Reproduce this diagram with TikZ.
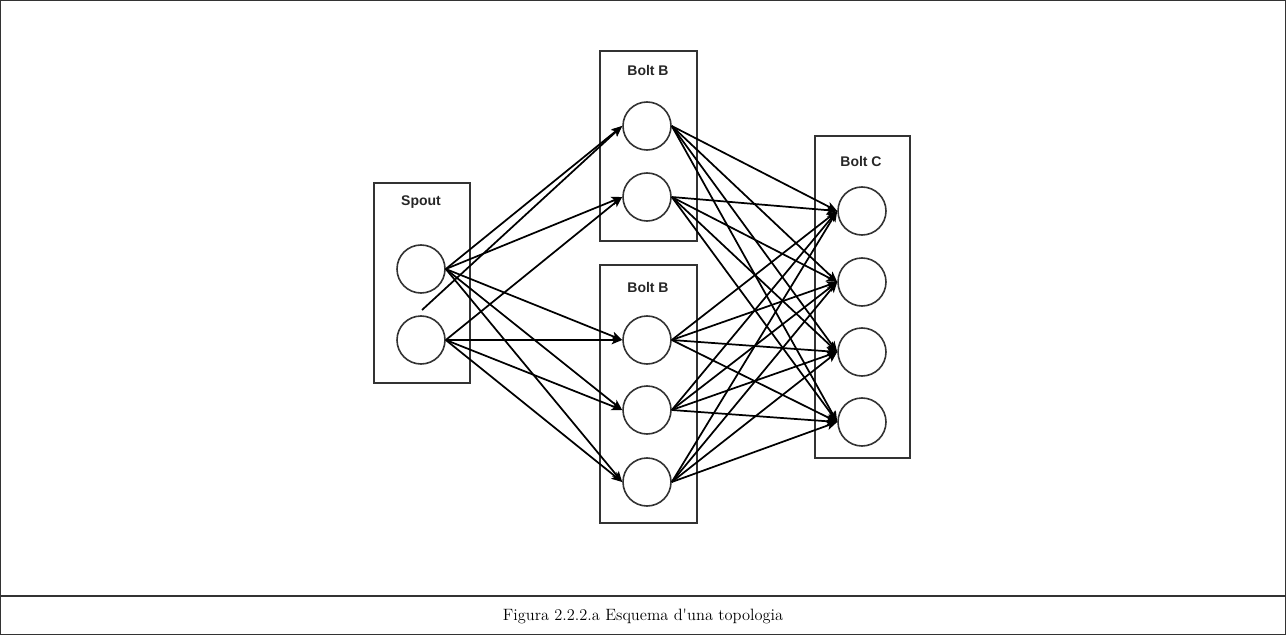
\documentclass[tikz,border=0pt]{standalone}
\usepackage{fontspec}
\setmainfont{Latin Modern Roman}
\newfontfamily\labelfont{Liberation Sans}
\usetikzlibrary{arrows.meta}
\definecolor{framegray}{HTML}{333333}
\begin{document}
\begin{tikzpicture}[x=0.75pt,y=-0.75pt,
  group/.style={draw=framegray,line width=1.5pt,inner sep=0pt,anchor=north west},
  task/.style={circle,draw=framegray,line width=1.2pt,minimum size=36pt,inner sep=0pt},
  grouplabel/.style={font=\labelfont\bfseries\fontsize{10.5}{12}\selectfont,text=black!85},
  flow/.style={-{Stealth[length=8pt,width=6.5pt,inset=2pt]},line width=1.3pt,black}]
% page frame and caption strip
\useasboundingbox (0,0) rectangle (1286,635);
\draw[framegray,line width=0.9pt] (0.6,0.6) rectangle (1285.4,634.4);
\draw[framegray,line width=1.3pt] (0.6,596) -- (1285.4,596);
\node[font=\fontsize{12.3}{14}\selectfont] (caption) at (643,616)
  {Figura 2.2.2.a Esquema d\textquotesingle una topologia};

% component boxes
\node[group,minimum width=72pt,minimum height=150pt] (spoutbox) at (373,182) {};
\node[group,minimum width=72.75pt,minimum height=142.5pt] (btopbox) at (599,50) {};
\node[group,minimum width=72.75pt,minimum height=193.5pt] (bbotbox) at (599,264) {};
\node[group,minimum width=71.25pt,minimum height=241.5pt] (cbox) at (814,135) {};

\node[grouplabel] (spoutlbl) at (421,202) {Spout};
\node[grouplabel] (btoplbl) at (648,70) {Bolt B};
\node[grouplabel] (bbotlbl) at (648,287) {Bolt B};
\node[grouplabel] (clbl) at (861,161) {Bolt C};

% tasks
\node[task] (s1) at (421,269) {};
\node[task] (s2) at (421,340) {};
\node[task] (b1) at (647,126) {};
\node[task] (b2) at (647,197) {};
\node[task] (b3) at (647,340) {};
\node[task] (b4) at (647,410) {};
\node[task] (b5) at (647,482) {};
\node[task] (c1) at (862,211) {};
\node[task] (c2) at (862,282) {};
\node[task] (c3) at (862,352) {};
\node[task] (c4) at (862,422) {};

% spout -> bolt B
\coordinate (loose) at (422,310);
\draw[flow] (s1.east) -- (b1.west);
\draw[flow] (loose) -- (b1.west);
\draw[flow] (s1.east) -- (b2.west);
\draw[flow] (s2.east) -- (b2.west);
\foreach \s in {s1,s2}
  \foreach \b in {b3,b4,b5}
    \draw[flow] (\s.east) -- (\b.west);

% bolt B -> bolt C
\foreach \b in {b1,b2,b3,b4,b5}
  \foreach \c in {c1,c2,c3,c4}
    \draw[flow] (\b.east) -- (\c.west);
\end{tikzpicture}
\end{document}
